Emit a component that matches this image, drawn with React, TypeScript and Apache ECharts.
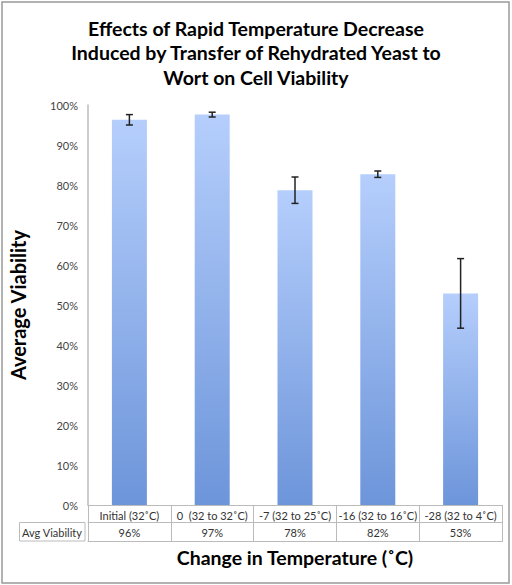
import React, { useEffect, useRef } from "react";
import * as echarts from "echarts";

const categories = ["Initial (32˚C)", "0  (32 to 32˚C)", "-7 (32 to 25˚C)", "-16 (32 to 16˚C)", "-28 (32 to 4˚C)"];
const viability = [96.3, 97.6, 78.7, 82.7, 52.9];
const errors = [1.3, 0.6, 3.3, 0.8, 8.7];
const tableLabels = ["96%", "97%", "78%", "82%", "53%"];
const yTicks = [0, 10, 20, 30, 40, 50, 60, 70, 80, 90, 100];

const FONT = "Lato, 'Open Sans', sans-serif";

export default function App() {
  const ref = useRef<HTMLDivElement>(null);
  useEffect(() => {
    const chart = echarts.init(ref.current!, null, { renderer: "svg" });
    const errData = viability.map((v, i) => [i, v - errors[i], v + errors[i]]);
    chart.setOption({
      animation: false,
      backgroundColor: "#fff",
      title: {
        text: "Effects of Rapid Temperature Decrease\nInduced by Transfer of Rehydrated Yeast to\nWort on Cell Viability",
        left: "center",
        top: 11,
        textStyle: { fontFamily: FONT, fontWeight: "bold", fontSize: 19.5, lineHeight: 24.5, color: "#000" },
      },
      grid: { left: 85, right: 10, top: 105, bottom: 80 },
      xAxis: [
        {
          type: "category",
          data: categories,
          position: "bottom",
          axisLine: { show: true, lineStyle: { color: "#bbb", width: 1 } },
          axisTick: { show: true, alignWithLabel: false, length: 37, lineStyle: { color: "#bbb" } },
          axisLabel: { interval: 0, margin: 4, fontFamily: FONT, fontSize: 11, color: "#333", lineHeight: 12 },
        },
        {
          type: "category",
          data: tableLabels,
          position: "bottom",
          offset: 17,
          axisLine: { show: true, lineStyle: { color: "#bbb", width: 1 } },
          axisTick: { show: false },
          axisLabel: { interval: 0, margin: 4, fontFamily: FONT, fontSize: 11, color: "#333", lineHeight: 12 },
        },
        {
          type: "category",
          data: tableLabels,
          position: "bottom",
          offset: 36,
          axisLine: { show: true, lineStyle: { color: "#bbb", width: 1 } },
          axisTick: { show: false },
          axisLabel: { show: false },
        },
      ],
      yAxis: {
        type: "value",
        min: 0,
        max: 100,
        interval: 10,
        name: "Average Viability",
        nameLocation: "middle",
        nameGap: 60,
        nameRotate: 90,
        nameTextStyle: { fontFamily: FONT, fontWeight: "bold", fontSize: 20, color: "#000" },
        axisLine: { show: true, lineStyle: { color: "#bbb", width: 1.5 } },
        axisTick: { show: false },
        splitLine: { show: false },
        axisLabel: {
          margin: 10,
          fontFamily: FONT,
          fontSize: 11,
          color: "#444",
          formatter: (v: number) => (yTicks.includes(v) ? v + "%" : ""),
        },
      },
      graphic: [
        {
          type: "rect",
          shape: { x: 19.5, y: 522.5, width: 65.5, height: 18.5 },
          style: { fill: "none", stroke: "#bbb", lineWidth: 1 },
        },
        {
          type: "text",
          x: 52,
          y: 532,
          style: { text: "Avg Viability", fontFamily: FONT, fontSize: 11, fill: "#333", align: "center", verticalAlign: "middle" },
        },
        {
          type: "text",
          x: 295,
          y: 557,
          style: { text: "Change in Temperature (˚C)", fontFamily: FONT, fontWeight: "bold", fontSize: 19.5, fill: "#000", align: "center", verticalAlign: "middle" },
        },
        {
          type: "rect",
          shape: { x: 2, y: 2, width: 507, height: 581 },
          style: { fill: "none", stroke: "#999", lineWidth: 1.5 },
          z: 100,
        },
      ],
      series: [
        {
          type: "bar",
          data: viability,
          barWidth: 35,
          itemStyle: {
            color: new echarts.graphic.LinearGradient(0, 0, 0, 1, [
              { offset: 0, color: "#b5cefc" },
              { offset: 1, color: "#6d95da" },
            ]),
          },
        },
        {
          type: "custom",
          data: errData,
          z: 10,
          renderItem: (params: any, api: any) => {
            const x = api.coord([api.value(0), api.value(1)])[0];
            const lo = api.coord([api.value(0), api.value(1)])[1];
            const hi = api.coord([api.value(0), api.value(2)])[1];
            const style = { stroke: "#222", lineWidth: 1.5 };
            return {
              type: "group",
              children: [
                { type: "line", shape: { x1: x, y1: lo, x2: x, y2: hi }, style },
                { type: "line", shape: { x1: x - 3.5, y1: lo, x2: x + 3.5, y2: lo }, style },
                { type: "line", shape: { x1: x - 3.5, y1: hi, x2: x + 3.5, y2: hi }, style },
              ],
            };
          },
        },
      ],
    });
    return () => chart.dispose();
  }, []);
  return <div ref={ref} style={{ position: "fixed", left: 0, top: 0, width: 512, height: 585 }} />;
}
